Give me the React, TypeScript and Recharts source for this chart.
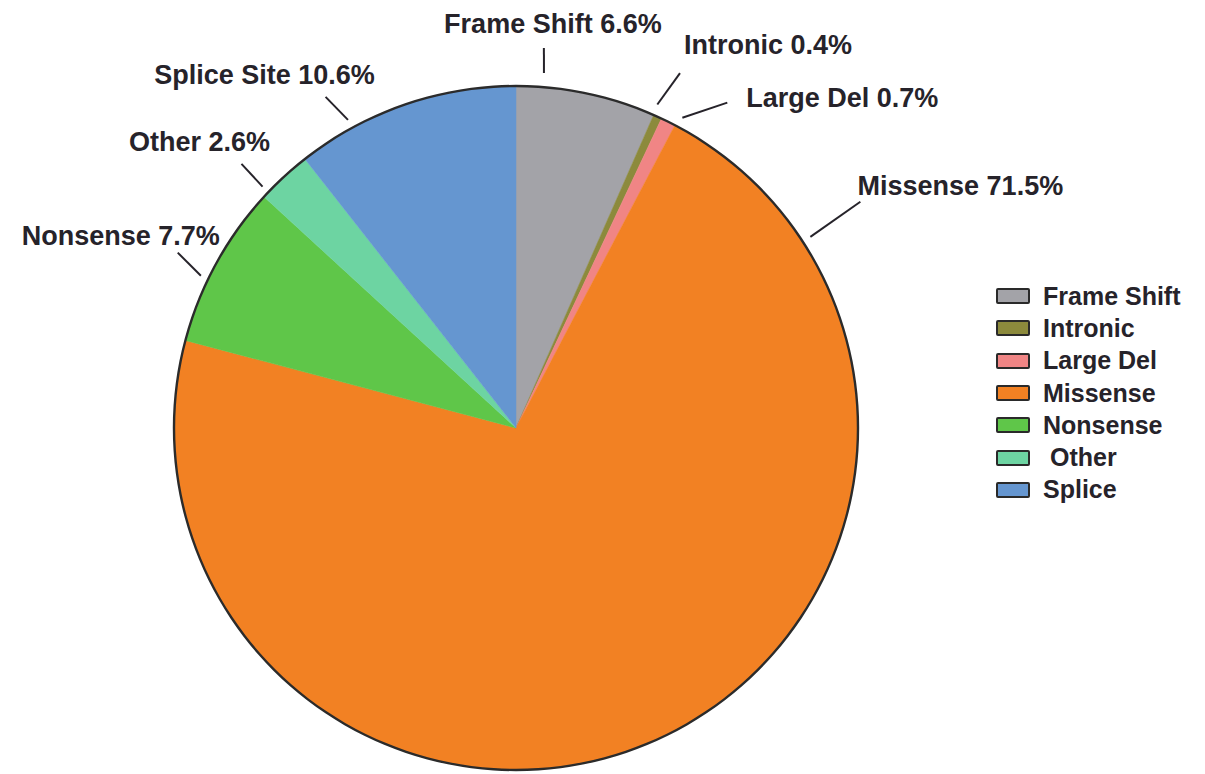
import React from "react";
import { PieChart, Pie, Cell, Legend } from "recharts";

const categories = ["Frame Shift", "Intronic", "Large Del", "Missense", "Nonsense", "Other", "Splice"];
const labelNames = ["Frame Shift", "Intronic", "Large Del", "Missense", "Nonsense", "Other", "Splice Site"];
const percents = [6.6, 0.4, 0.7, 71.5, 7.7, 2.6, 10.6];

const COLORS = ["#a3a3a8", "#8c8a3c", "#f08585", "#f28123", "#5fc649", "#6dd4a2", "#6596d0"];
const TEXT = "#26232a";
const RAD = Math.PI / 180;

// hand placement of the callouts (angles in degrees, offsets from the pie edge)
const LAYOUT: Record<string, { a0: number; a1: number; r0: number; r1: number; tx: number; ty: number }> = {
  "Frame Shift": { a0: 85.5, a1: 85.8, r0: 14, r1: 39, tx: 9, ty: -24 },
  Intronic: { a0: 66.4, a1: 65.2, r0: 11, r1: 49, tx: 88, ty: -28 },
  "Large Del": { a0: 61.8, a1: 57, r0: 10, r1: 46, tx: 115, ty: -5 },
  Missense: { a0: 33, a1: 33.3, r0: 9, r1: 70, tx: 100, ty: -16 },
  Nonsense: { a0: 154.2, a1: 152.6, r0: 8, r1: 39, tx: -57, ty: -17 },
  Other: { a0: 136.4, a1: 136.1, r0: 8, r1: 39, tx: -42, ty: -22 },
  "Splice Site": { a0: 118.6, a1: 119.9, r0: 9, r1: 40, tx: -61, ty: -22 },
};

const data = categories.map((c, i) => ({ name: c, value: percents[i] }));
const outline = [{ name: "outline", value: 1 }];

const pt = (cx: number, cy: number, r: number, a: number) => ({
  x: cx + r * Math.cos(-a * RAD),
  y: cy + r * Math.sin(-a * RAD),
});

const renderLabel = (props: any) => {
  const { cx, cy, outerRadius, index, midAngle } = props;
  const name = labelNames[index];
  const l = LAYOUT[name] || { a0: midAngle, a1: midAngle, r0: 9, r1: 40, tx: 0, ty: -20 };
  const p0 = pt(cx, cy, outerRadius + l.r0, l.a0);
  const p1 = pt(cx, cy, outerRadius + l.r1, l.a1);
  return (
    <g key={`lbl-${index}`}>
      <line x1={p0.x} y1={p0.y} x2={p1.x} y2={p1.y} stroke={TEXT} strokeWidth={2} />
      <text
        x={p1.x + l.tx}
        y={p1.y + l.ty}
        textAnchor="middle"
        dominantBaseline="central"
        fill={TEXT}
        fontSize={27}
        fontWeight="bold"
      >
        {`${name} ${percents[index]}%`}
      </text>
    </g>
  );
};

const renderLegend = () => (
  <div>
    {categories.map((c, i) => (
      <div key={c} style={{ display: "flex", alignItems: "center", height: 32.3 }}>
        <div
          style={{
            width: 30,
            height: 12,
            background: COLORS[i],
            border: "2px solid #2a2a2a",
            borderRadius: 2,
            marginRight: 13,
          }}
        />
        <span style={{ fontSize: 25, fontWeight: "bold", color: TEXT, whiteSpace: "pre" }}>
          {c === "Other" ? " " + c : c}
        </span>
      </div>
    ))}
  </div>
);

export default function App() {
  return (
    <div
      style={{
        position: "absolute",
        top: 0,
        left: 0,
        width: 1205,
        height: 774,
        background: "#fff",
        fontFamily: "'Liberation Sans', Arial, sans-serif",
      }}
    >
      <PieChart width={1205} height={774} margin={{ top: 0, right: 0, bottom: 0, left: 0 }}>
        <Pie
          data={data}
          dataKey="value"
          nameKey="name"
          cx={516}
          cy={428}
          outerRadius={342}
          startAngle={90}
          endAngle={-270}
          label={renderLabel}
          labelLine={false}
          isAnimationActive={false}
        >
          {data.map((d, i) => (
            <Cell key={d.name} fill={COLORS[i]} stroke={COLORS[i]} strokeWidth={0.5} />
          ))}
        </Pie>
        <Pie
          data={outline}
          dataKey="value"
          cx={516}
          cy={428}
          innerRadius={340.8}
          outerRadius={343.2}
          startAngle={90}
          endAngle={-270}
          fill="#2b2b2b"
          stroke="none"
          legendType="none"
          isAnimationActive={false}
        />
        <Legend content={renderLegend} wrapperStyle={{ left: 996, top: 280, width: 200 }} />
      </PieChart>
    </div>
  );
}
